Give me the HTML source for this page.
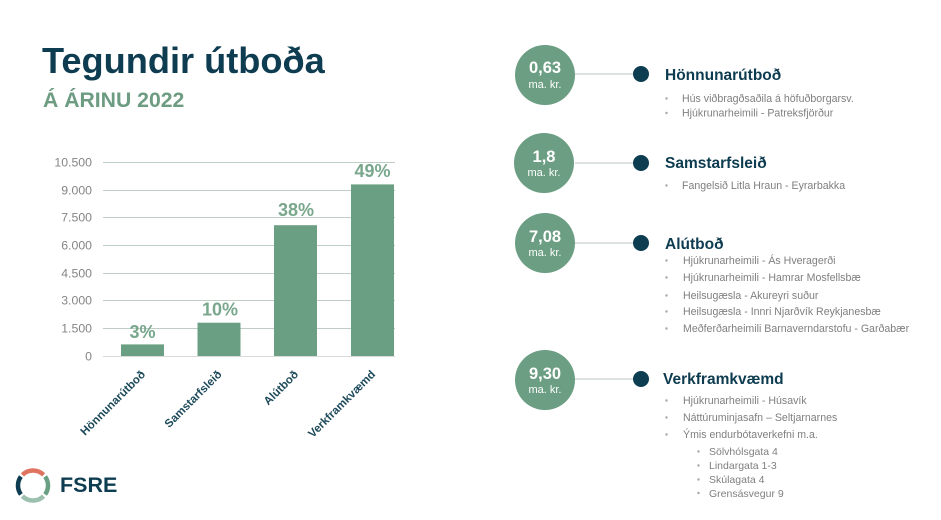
<!DOCTYPE html>
<html>
<head>
<meta charset="utf-8">
<style>
  html, body { margin:0; padding:0; background:#ffffff; }
  body { width:941px; height:520px; overflow:hidden; }
  svg { display:block; font-family:"Liberation Sans", sans-serif; }
</style>
</head>
<body>
<svg width="941" height="520" viewBox="0 0 941 520" xmlns="http://www.w3.org/2000/svg">
  <rect width="941" height="520" fill="#ffffff"/>

  <!-- Title -->
  <text x="42" y="73" font-size="36.2" font-weight="bold" fill="#0e3c50">Tegundir útboða</text>
  <text x="43" y="107" font-size="21.2" font-weight="bold" fill="#6d9c82">Á ÁRINU 2022</text>

  <!-- Gridlines -->
  <g stroke="#bfcec5" stroke-width="1">
    <line x1="103" y1="162.5" x2="395" y2="162.5"/>
    <line x1="103" y1="190.5" x2="395" y2="190.5"/>
    <line x1="103" y1="217.5" x2="395" y2="217.5"/>
    <line x1="103" y1="245.5" x2="395" y2="245.5"/>
    <line x1="103" y1="273.5" x2="395" y2="273.5"/>
    <line x1="103" y1="300.5" x2="395" y2="300.5"/>
    <line x1="103" y1="328.5" x2="395" y2="328.5"/>
  </g>
  <line x1="103" y1="356.5" x2="395" y2="356.5" stroke="#d9d9d9" stroke-width="1"/>

  <!-- Y tick labels -->
  <g font-size="12.3" fill="#858585" text-anchor="end">
    <text x="92" y="166.5">10.500</text>
    <text x="92" y="194.5">9.000</text>
    <text x="92" y="221.5">7.500</text>
    <text x="92" y="249.5">6.000</text>
    <text x="92" y="277.5">4.500</text>
    <text x="92" y="304.5">3.000</text>
    <text x="92" y="332.5">1.500</text>
    <text x="92" y="360.5">0</text>
  </g>

  <!-- Bars -->
  <g fill="#6b9f83">
    <rect x="121" y="344.4" width="43" height="11.6"/>
    <rect x="197.5" y="322.7" width="43" height="33.3"/>
    <rect x="274" y="225.2" width="43" height="130.8"/>
    <rect x="351" y="184.4" width="43" height="171.6"/>
  </g>

  <!-- Bar labels -->
  <g font-size="18" font-weight="bold" fill="#78a78c" text-anchor="middle">
    <text x="142.5" y="338">3%</text>
    <text x="220" y="315.5">10%</text>
    <text x="296" y="216">38%</text>
    <text x="372.5" y="177">49%</text>
  </g>

  <!-- X labels -->
  <g font-size="11.5" font-weight="bold" fill="#1d4a5a" text-anchor="end">
    <text transform="translate(146,375) rotate(-45)">Hönnunarútboð</text>
    <text transform="translate(222.5,375) rotate(-45)">Samstarfsleið</text>
    <text transform="translate(299,375) rotate(-45)">Alútboð</text>
    <text transform="translate(376,375) rotate(-45)">Verkframkvæmd</text>
  </g>

  <!-- Logo -->
  <g fill="none" stroke-width="4.5">
    <path d="M 22.4 474.9 A 15 15 0 0 1 43.6 474.9" stroke="#e0735f"/>
    <path d="M 20.9 476.6 A 15 15 0 0 0 20.9 494.4" stroke="#0e3c50"/>
    <path d="M 45.1 476.6 A 15 15 0 0 1 45.1 494.4" stroke="#6b9f83"/>
    <path d="M 43.6 496.1 A 15 15 0 0 1 22.4 496.1" stroke="#9dbfae"/>
  </g>
  <text x="60" y="492" font-size="21.5" font-weight="bold" fill="#0e3c50">FSRE</text>

  <!-- Right side: connectors -->
  <g stroke="#c8d0cc" stroke-width="1.2">
    <line x1="575" y1="74" x2="635" y2="74"/>
    <line x1="575" y1="163" x2="635" y2="163"/>
    <line x1="575" y1="243" x2="635" y2="243"/>
    <line x1="575" y1="379" x2="635" y2="379"/>
  </g>

  <!-- Circles -->
  <g fill="#6b9e82">
    <circle cx="545" cy="75" r="30"/>
    <circle cx="544" cy="163" r="30"/>
    <circle cx="545" cy="243" r="30"/>
    <circle cx="545" cy="380" r="30"/>
  </g>
  <g fill="#ffffff" text-anchor="middle">
    <text x="545" y="73" font-size="16.5" font-weight="bold">0,63</text>
    <text x="545" y="88" font-size="11">ma. kr.</text>
    <text x="544" y="162" font-size="16.5" font-weight="bold">1,8</text>
    <text x="544" y="176" font-size="11">ma. kr.</text>
    <text x="545" y="242" font-size="16.5" font-weight="bold">7,08</text>
    <text x="545" y="256" font-size="11">ma. kr.</text>
    <text x="545" y="379" font-size="16.5" font-weight="bold">9,30</text>
    <text x="545" y="393" font-size="11">ma. kr.</text>
  </g>

  <!-- Dots -->
  <g fill="#0d3d50">
    <circle cx="641" cy="74" r="8"/>
    <circle cx="641" cy="163" r="8"/>
    <circle cx="641" cy="243" r="8"/>
    <circle cx="641" cy="379" r="8"/>
  </g>

  <!-- Headings -->
  <g font-size="15.5" font-weight="bold" fill="#0d3b4f">
    <text x="665" y="80">Hönnunarútboð</text>
    <text x="665" y="168">Samstarfsleið</text>
    <text x="665" y="249">Alútboð</text>
    <text x="663" y="384">Verkframkvæmd</text>
  </g>

  <!-- Bullets -->
  <g fill="#a6a6a6">
    <circle cx="666.5" cy="98.5" r="1.2"/>
    <circle cx="666.5" cy="113" r="1.2"/>
    <circle cx="666.5" cy="185.5" r="1.2"/>
    <circle cx="666.5" cy="260.5" r="1.2"/>
    <circle cx="666.5" cy="277.5" r="1.2"/>
    <circle cx="666.5" cy="295.5" r="1.2"/>
    <circle cx="666.5" cy="311.5" r="1.2"/>
    <circle cx="666.5" cy="328.5" r="1.2"/>
    <circle cx="666.5" cy="400.5" r="1.2"/>
    <circle cx="666.5" cy="417.5" r="1.2"/>
    <circle cx="666.5" cy="434.5" r="1.2"/>
    <circle cx="698.5" cy="451.5" r="1.2"/>
    <circle cx="698.5" cy="465.5" r="1.2"/>
    <circle cx="698.5" cy="479.5" r="1.2"/>
    <circle cx="698.5" cy="493" r="1.2"/>
  </g>

  <!-- Items -->
  <g font-size="10.6" fill="#7f7f7f">
    <text x="682" y="102">Hús viðbragðsaðila á höfuðborgarsv.</text>
    <text x="682" y="116.5">Hjúkrunarheimili - Patreksfjörður</text>
    <text x="682" y="189">Fangelsið Litla Hraun - Eyrarbakka</text>
    <text x="683" y="264">Hjúkrunarheimili - Ás Hveragerði</text>
    <text x="683" y="281">Hjúkrunarheimili - Hamrar Mosfellsbæ</text>
    <text x="683" y="299">Heilsugæsla - Akureyri suður</text>
    <text x="683" y="315">Heilsugæsla - Innri Njarðvík Reykjanesbæ</text>
    <text x="683" y="332">Meðferðarheimili Barnaverndarstofu - Garðabær</text>
    <text x="683" y="404">Hjúkrunarheimili - Húsavík</text>
    <text x="683" y="421">Náttúruminjasafn – Seltjarnarnes</text>
    <text x="683" y="438">Ýmis endurbótaverkefni  m.a.</text>
  </g>
  <g font-size="10.5" fill="#7f7f7f">
    <text x="709" y="455">Sölvhólsgata 4</text>
    <text x="709" y="469">Lindargata 1-3</text>
    <text x="709" y="483">Skúlagata 4</text>
    <text x="709" y="497">Grensásvegur 9</text>
  </g>
</svg>
</body>
</html>
